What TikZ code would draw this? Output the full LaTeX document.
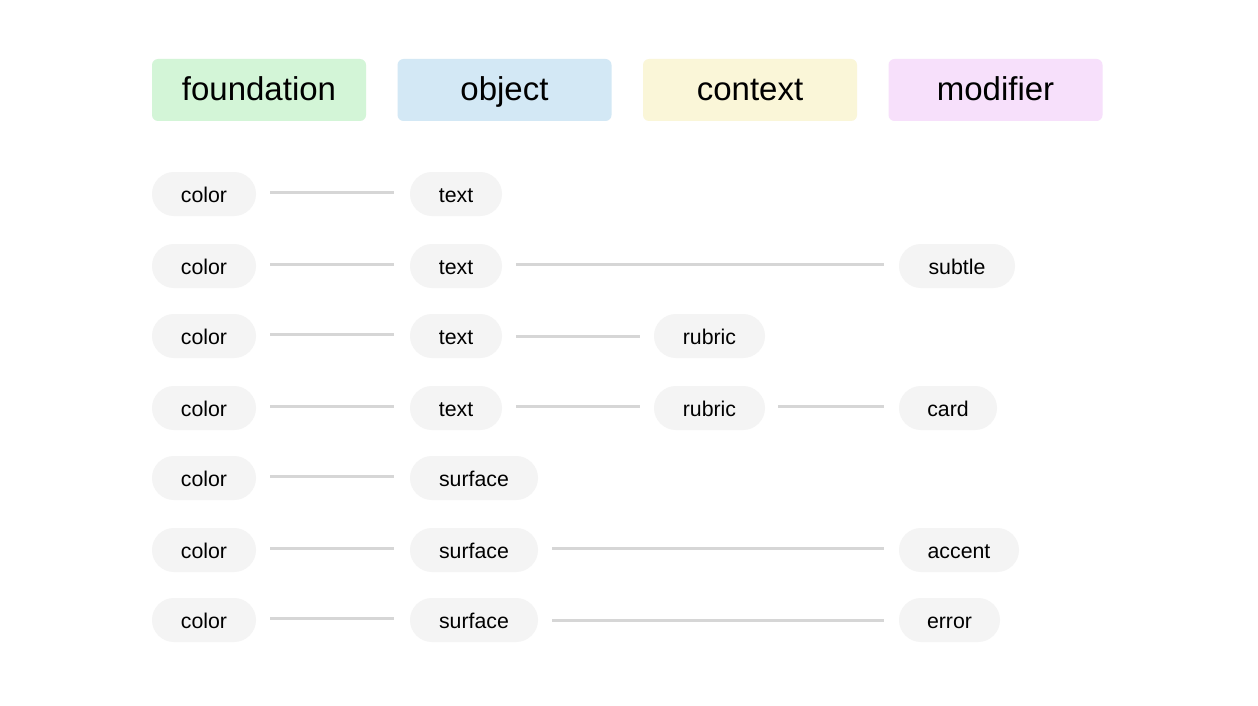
\documentclass[tikz,border=0pt]{standalone}
\usepackage{fontspec}
\setmainfont{Liberation Sans}
\definecolor{pillbg}{HTML}{F4F4F4}
\definecolor{linec}{HTML}{D6D6D6}
\definecolor{hgreen}{HTML}{D3F5D7}
\definecolor{hblue}{HTML}{D3E8F5}
\definecolor{hyellow}{HTML}{FAF6D8}
\definecolor{hpink}{HTML}{F7E0FB}
\begin{document}
\begin{tikzpicture}[x=1pt,y=-1pt,
  header/.style={rounded corners=6pt, minimum width=214pt, minimum height=62pt, inner sep=0pt,
    font=\fontsize{33}{38}\selectfont, text height=26pt, text depth=4pt},
  pill/.style={fill=pillbg, rounded corners=22pt, minimum height=44pt, inner sep=0pt,
    font=\fontsize{21.3}{25}\selectfont, text height=19pt, text depth=3pt},
  conn/.style={draw=linec, line width=3pt}]
\fill[white] (0,0) rectangle (1258,706);
\useasboundingbox (0,0) rectangle (1258,706);
% headers
\node[header, fill=hgreen] (hf) at (259,90) {foundation};
\node[header, fill=hblue] (ho) at (504.5,90) {object};
\node[header, fill=hyellow] (hc) at (750,90) {context};
\node[header, fill=hpink] (hm) at (995.5,90) {modifier};
% row 1
\node[pill, minimum width=104pt] (c1) at (204,194) {color};
\node[pill, minimum width=92pt] (o1) at (456,194) {text};
\draw[conn] ([xshift=14pt,yshift=2pt]c1.east) -- ([xshift=-16pt,yshift=2pt]o1.west);
% row 2
\node[pill, minimum width=104pt] (c2) at (204,266) {color};
\node[pill, minimum width=92pt] (o2) at (456,266) {text};
\node[pill, minimum width=116pt] (m2) at (957,266) {subtle};
\draw[conn] ([xshift=14pt,yshift=2pt]c2.east) -- ([xshift=-16pt,yshift=2pt]o2.west);
\draw[conn] ([xshift=14pt,yshift=2pt]o2.east) -- ([xshift=-15pt,yshift=2pt]m2.west);
% row 3
\node[pill, minimum width=104pt] (c3) at (204,336) {color};
\node[pill, minimum width=92pt] (o3) at (456,336) {text};
\node[pill, minimum width=111pt] (x3) at (709.5,336) {rubric};
\draw[conn] ([xshift=14pt,yshift=2pt]c3.east) -- ([xshift=-16pt,yshift=2pt]o3.west);
\draw[conn] ([xshift=14pt]o3.east) -- ([xshift=-14pt]x3.west);
% row 4
\node[pill, minimum width=104pt] (c4) at (204,408) {color};
\node[pill, minimum width=92pt] (o4) at (456,408) {text};
\node[pill, minimum width=111pt] (x4) at (709.5,408) {rubric};
\node[pill, minimum width=98pt] (m4) at (948,408) {card};
\draw[conn] ([xshift=14pt,yshift=2pt]c4.east) -- ([xshift=-16pt,yshift=2pt]o4.west);
\draw[conn] ([xshift=14pt,yshift=2pt]o4.east) -- ([xshift=-14pt,yshift=2pt]x4.west);
\draw[conn] ([xshift=13pt,yshift=2pt]x4.east) -- ([xshift=-15pt,yshift=2pt]m4.west);
% row 5
\node[pill, minimum width=104pt] (c5) at (204,478) {color};
\node[pill, minimum width=128pt] (o5) at (474,478) {surface};
\draw[conn] ([xshift=14pt,yshift=2pt]c5.east) -- ([xshift=-16pt,yshift=2pt]o5.west);
% row 6
\node[pill, minimum width=104pt] (c6) at (204,550) {color};
\node[pill, minimum width=128pt] (o6) at (474,550) {surface};
\node[pill, minimum width=120pt] (m6) at (959,550) {accent};
\draw[conn] ([xshift=14pt,yshift=2pt]c6.east) -- ([xshift=-16pt,yshift=2pt]o6.west);
\draw[conn] ([xshift=14pt,yshift=2pt]o6.east) -- ([xshift=-15pt,yshift=2pt]m6.west);
% row 7
\node[pill, minimum width=104pt] (c7) at (204,620) {color};
\node[pill, minimum width=128pt] (o7) at (474,620) {surface};
\node[pill, minimum width=101pt] (m7) at (949.5,620) {error};
\draw[conn] ([xshift=14pt,yshift=2pt]c7.east) -- ([xshift=-16pt,yshift=2pt]o7.west);
\draw[conn] ([xshift=14pt]o7.east) -- ([xshift=-15pt]m7.west);
\end{tikzpicture}
\end{document}
